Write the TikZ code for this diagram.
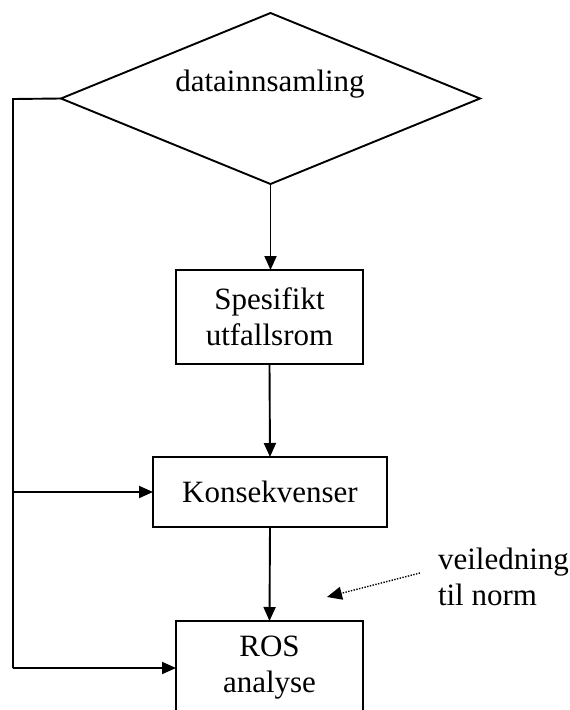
\documentclass[tikz,border=0pt]{standalone}
\usepackage{fontspec}
\setmainfont{Liberation Serif}
\usetikzlibrary{shapes.geometric,arrows.meta}
\begin{document}
\begin{tikzpicture}[x=1pt,y=-1pt,
  line width=1.9pt, outer sep=0pt,
  txt/.style={font=\fontsize{31}{36}\selectfont, align=center, inner sep=0pt},
  box/.style={draw, line width=1.9pt, inner sep=0pt, txt},
  arr/.style={-{Triangle[length=14pt,width=12pt]}},
  dotarr/.style={dotted, line width=1.4pt, dash pattern=on 1.4pt off 1.4pt, -{Triangle[length=15pt,width=13pt]}}]
\useasboundingbox (0,0) rectangle (570,710);
\clip (0,0) rectangle (570,710);
% diamond
\node[diamond, draw, minimum width=419pt, minimum height=171pt, inner sep=0pt] (d) at (270.5,98.5) {};
\node[txt, anchor=base] (dtxt) at (270,91) {datainnsamling};
% boxes
\node[box, minimum width=187pt, minimum height=94pt] (spec) at (269.5,317) {Spesifikt\\utfallsrom};
\node[box, minimum width=234pt, minimum height=70pt] (kons) at (270,492) {Konsekvenser};
\node[box, minimum width=187pt, minimum height=94pt] (ros) at (269.5,668) {ROS\\analyse};
% side line
\coordinate (tl) at (13,99);
\coordinate (ml) at (13,492);
\coordinate (bl) at (13,668);
\draw (d.west) -- (tl) -- (bl);
\draw[arr] (ml) -- (kons.west);
\draw[arr] (bl) -- (ros.west);
% main flow
\draw[arr] (d.south) -- (d.south |- spec.north);
\draw[arr] (spec.south) -- (kons.north);
\draw[arr] (kons.south) -- (ros.north);
% note
\node[txt, align=left, anchor=west] (note) at (438,577) {veiledning\\til norm};
\coordinate (ds) at (420,573);
\coordinate (de) at (327,597);
\draw[dotarr] (ds) -- (de);
\end{tikzpicture}
\end{document}
